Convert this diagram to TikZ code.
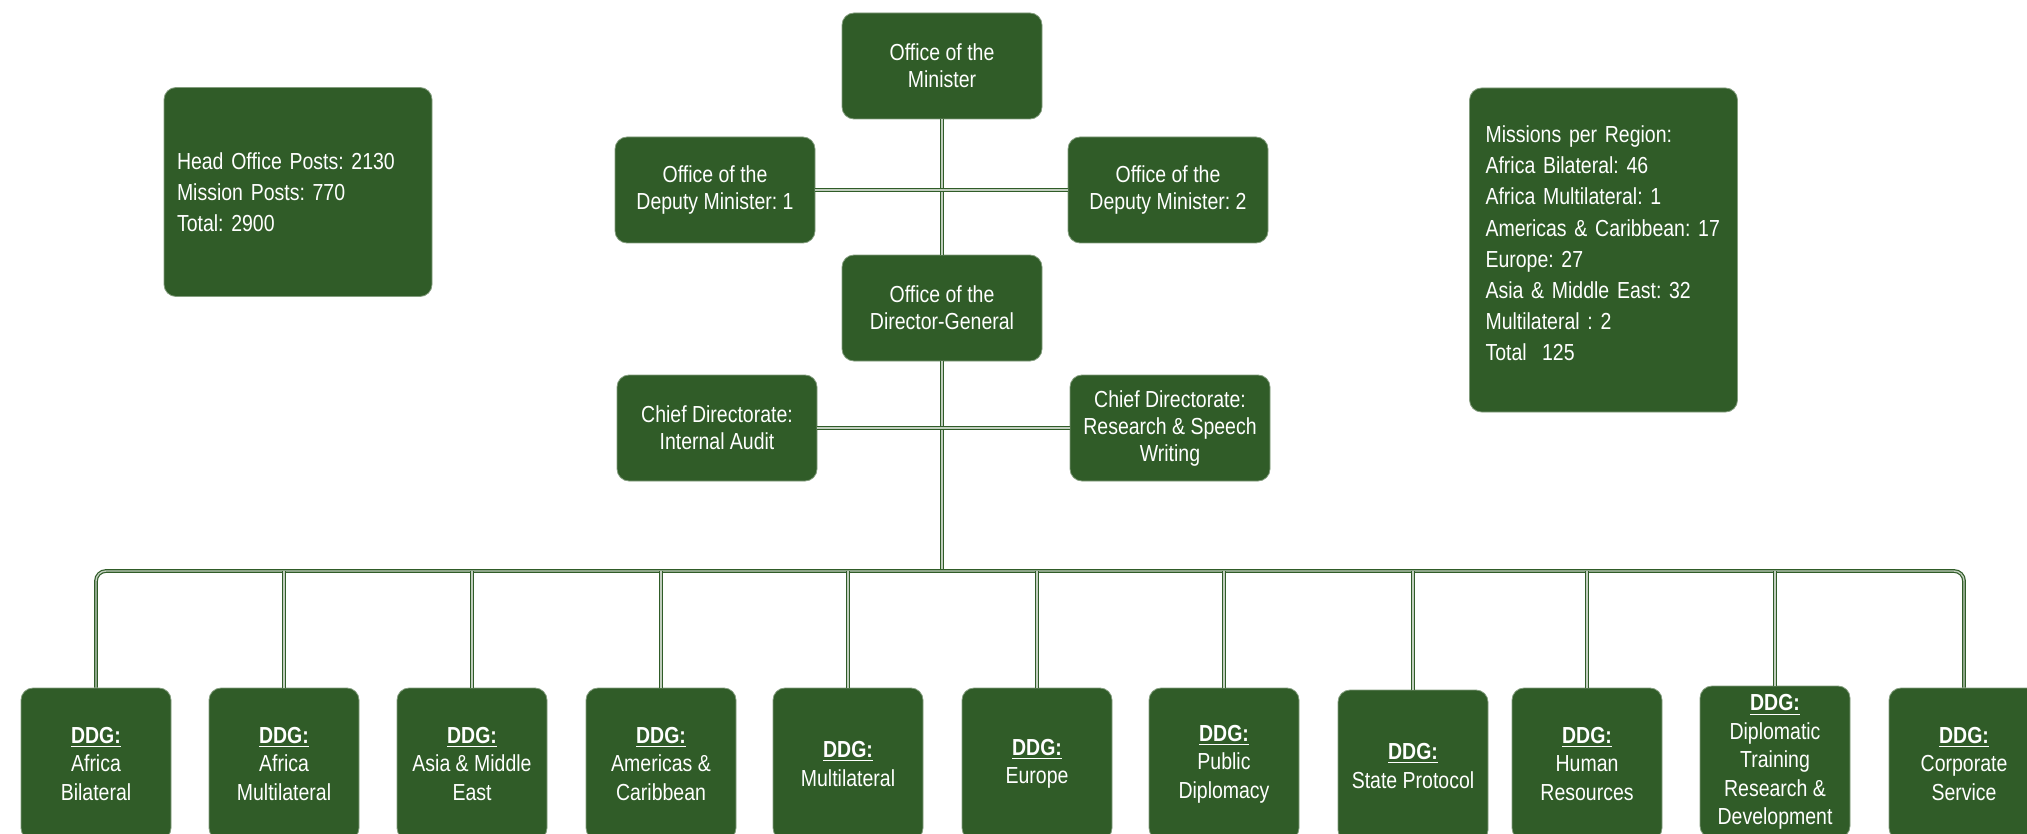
\documentclass[tikz,border=0pt]{standalone}
\usepackage{fontspec}
\setmainfont{Liberation Sans}[FakeStretch=0.84]
\frenchspacing
\usetikzlibrary{calc}
\definecolor{dirgreen}{RGB}{48,92,40}

\tikzset{
  office/.style={fill=dirgreen, draw=dirgreen!60!white, line width=0.4pt, rounded corners=6pt,
    text=white, align=center, minimum width=100pt, minimum height=53pt, inner sep=2pt,
    font=\fontsize{11.6}{13.5}\selectfont},
  ddg/.style={office, minimum width=75pt, minimum height=76pt, font=\fontsize{11.6}{14.2}\selectfont},
  info/.style={office, align=left, font=\fontsize{11.6}{15.6}\selectfont},
  link/.style={draw=dirgreen, double=dirgreen!30!white, double distance=0.7pt, line width=0.6pt},
}
\newcommand{\ddghead}{\underline{\textbf{DDG:}}}

\begin{document}
\begin{tikzpicture}[x=0.5pt,y=-0.5pt]
\useasboundingbox (0,0) rectangle (2027,834);
\clip (0,0) rectangle (2027,834);

% top offices
\node[office] (minister) at (942,66) {Office of the\\Minister};
\node[office] (deputy1) at (715,190) {Office of the\\Deputy Minister: 1};
\node[office] (deputy2) at (1168,190) {Office of the\\Deputy Minister: 2};
\node[office] (dg) at (942,308) {Office of the\\Director-General};
\node[office] (audit) at (717,428) {Chief Directorate:\\Internal Audit};
\node[office] (speech) at (1170,428) {Chief Directorate:\\Research \& Speech\\Writing};

% posts and missions
\node[info, text width=121pt, inner xsep=6.5pt, minimum height=104.5pt] (posts) at (298,192)
  {Head Office Posts: 2130\\Mission Posts: 770\\Total: 2900};
\node[info, text width=118pt, inner xsep=8pt, minimum height=162pt] (missions) at (1603.5,250)
  {Missions per Region:\\Africa Bilateral: 46\\Africa Multilateral: 1\\Americas \& Caribbean: 17\\
   Europe: 27\\Asia \& Middle East: 32\\Multilateral : 2\\Total\ \ 125\par\vspace{6.5pt}};

% deputy directors-general
\node[ddg] (afbil) at (96,764) {\ddghead\\Africa\\Bilateral};
\node[ddg] (afmul) at (284,764) {\ddghead\\Africa\\Multilateral};
\node[ddg] (asia) at (472,764) {\ddghead\\Asia \& Middle\\East};
\node[ddg] (americas) at (661,764) {\ddghead\\Americas \&\\Caribbean};
\node[ddg] (multi) at (848,764) {\ddghead\\Multilateral};
\node[ddg] (europe) at (1037,764) {\ddghead\\Europe};
\node[ddg] (pubdip) at (1224,764) {\ddghead\\Public\\Diplomacy};
\node[ddg] (protocol) at (1413,766) {\ddghead\\State Protocol};
\node[ddg] (hr) at (1587,764) {\ddghead\\Human\\Resources};
\node[ddg] (training) at (1775,762) {\ddghead\\Diplomatic\\Training\\Research \&\\Development};
\node[ddg] (corporate) at (1964,764) {\ddghead\\Corporate\\Service};

% lignes
\coordinate (bus) at (942,571);
\draw[link] (minister) -- (dg);
\draw[link] (deputy1) -- (deputy2);
\draw[link] (dg) -- (bus);
\draw[link] (audit) -- (speech);
\draw[link, rounded corners=5pt] (afbil.north) |- (bus) -| (corporate.north);
\foreach \n in {afmul,asia,americas,multi,europe,pubdip,protocol,hr,training}
  \draw[link] (\n.north) -- (\n.north |- bus);
\end{tikzpicture}
\end{document}
